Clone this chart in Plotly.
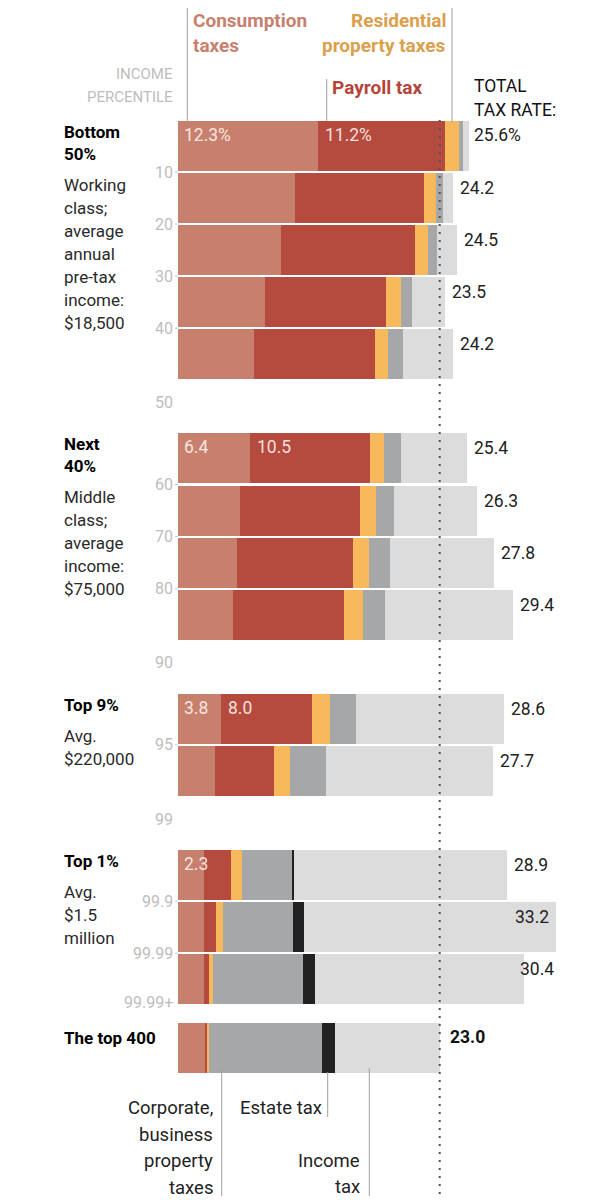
import plotly.graph_objects as go

# ---------------- data ----------------
consumption = [12.3, 10.3, 9.1, 7.7, 6.7, 6.4, 5.5, 5.2, 4.9, 3.8, 3.3, 2.3, 2.3, 2.3, 2.4]
payroll     = [11.2, 11.3, 11.7, 10.6, 10.6, 10.5, 10.5, 10.2, 9.7, 8.0, 5.2, 2.4, 1.1, 0.5, 0.25]
residential = [1.2, 1.1, 1.2, 1.3, 1.2, 1.2, 1.4, 1.4, 1.7, 1.6, 1.4, 1.0, 0.6, 0.35, 0.15]
corporate   = [0.3, 0.6, 0.8, 1.0, 1.3, 1.5, 1.6, 1.8, 1.9, 2.3, 3.1, 4.4, 6.1, 7.9, 9.9]
estate      = [0, 0, 0, 0, 0, 0, 0, 0, 0, 0, 0, 0.1, 1.0, 1.0, 1.1]
income      = [0.6, 0.9, 1.7, 2.9, 4.4, 5.8, 7.3, 9.2, 11.2, 12.9, 14.7, 18.7, 22.1, 18.35, 9.2]
totals      = [25.6, 24.2, 24.5, 23.5, 24.2, 25.4, 26.3, 27.8, 29.4, 28.6, 27.7, 28.9, 33.2, 30.4, 23.0]

group_sizes = [5, 4, 2, 3, 1]
group_titles = [["Bottom", "50%"], ["Next", "40%"], ["Top 9%"], ["Top 1%"], ["The top 400"]]
group_desc = [["Working", "class;", "average", "annual", "pre-tax", "income:", "$18,500"],
              ["Middle", "class;", "average", "income:", "$75,000"],
              ["Avg.", "$220,000"],
              ["Avg.", "$1.5", "million"],
              []]
# tick labels between rows (inside groups) and at group ends
inner_ticks = ["10", "20", "30", "40", "60", "70", "80", "95", "99.9", "99.99"]
end_ticks = ["50", "90", "99", "99.99+"]

# in-bar value labels: row index -> (consumption label, payroll label)
inbar = {0: ("12.3%", "11.2%"), 5: ("6.4", "10.5"), 9: ("3.8", "8.0"), 11: ("2.3", None)}

reference_rate = totals[-1]

# ---------------- styling ----------------
C_CONS = "#c8806e"
C_PAY = "#b54b3f"
C_RES = "#f8b95c"
C_CORP = "#a6a7a8"
C_EST = "#222222"
C_INC = "#dcdcdc"
FONT = "Roboto"

PAGE_OFF = 8               # page body margin
W, H = 615, 1200
X0, PXU = 177.5, 11.4      # pixel of x=0, pixels per percentage point
Y0, PITCH = 146.0, 52.08   # pixel of first row centre, pixels per row slot


def dx(px):
    return (px - X0) / PXU


def dy(py):
    return (py - Y0) / PITCH


# row slots: one empty slot between groups, small gap before the top 400
gaps = [1, 1, 1, 0.31]
slots = []
s = 0.0
group_first = []
for gi, n in enumerate(group_sizes):
    group_first.append(len(slots))
    for k in range(n):
        slots.append(s)
        s += 1
    if gi < len(gaps):
        s += gaps[gi]

fig = go.Figure()
series = [(consumption, C_CONS), (payroll, C_PAY), (residential, C_RES),
          (corporate, C_CORP), (estate, C_EST), (income, C_INC)]
for vals, col in series:
    fig.add_trace(go.Bar(y=slots, x=vals, orientation="h", width=0.96,
                         marker=dict(color=col, line=dict(width=0)),
                         hoverinfo="skip", showlegend=False))

ann = []
shapes = []


def txt(x, y, text, size=17, color="#222", bold=False, xanchor="left",
        xshift=0, yshift=0):
    if bold:
        text = "<b>" + text + "</b>"
    ann.append(dict(x=x, y=y, xref="x", yref="y", text=text, showarrow=False,
                    xanchor=xanchor, yanchor="middle", xshift=xshift, yshift=yshift,
                    font=dict(family=FONT, size=size, color=color)))


def vline(px, py0, py1, color="#a0a0a0", width=1):
    shapes.append(dict(type="line", xref="x", yref="y", x0=dx(px), x1=dx(px),
                       y0=dy(py0), y1=dy(py1), line=dict(color=color, width=width)))


# total labels
n_rows = len(totals)
for i, t in enumerate(totals):
    y = slots[i]
    if i == 0:
        txt(t, y, "%.1f%%" % t, size=17.5, xshift=3, yshift=11)
    elif i == n_rows - 1:
        txt(t, y, "%.1f" % t, size=17.5, bold=True, color="#111", xshift=8, yshift=11)
    elif i == 12:
        txt(t, y, "%.1f" % t, size=17.5, xanchor="right", xshift=-5, yshift=10)
    elif i == 13:
        txt(t, y, "%.1f" % t, size=17.5, xshift=-6, yshift=10)
    else:
        txt(t, y, "%.1f" % t, size=17.5, xshift=5, yshift=10)

# in-bar labels
for i, (a, b) in inbar.items():
    txt(0, slots[i], a, size=17.5, color="rgba(255,240,235,0.92)", xshift=4, yshift=11)
    if b:
        txt(consumption[i], slots[i], b, size=17.5, color="rgba(255,240,235,0.92)", xshift=5, yshift=11)

# tick labels
TICKC = "#bdbdbd"
ti = 0
ei = 0
for gi, n in enumerate(group_sizes[:-1]):
    f = group_first[gi]
    for k in range(n - 1):
        yb = (slots[f + k] + slots[f + k + 1]) / 2
        txt(dx(175), yb, inner_ticks[ti], size=16, color=TICKC, xanchor="right")
        shapes.append(dict(type="line", xref="x", yref="y", x0=dx(175), x1=dx(178),
                           y0=yb, y1=yb, line=dict(color="#c8c8c8", width=1)))
        ti += 1
    last = f + n - 1
    if gi < 3:
        ye = (slots[last] + slots[last + 1]) / 2
        txt(dx(175), ye, end_ticks[ei], size=16, color=TICKC, xanchor="right", yshift=4)
    else:
        ye = slots[last] + 0.48
        txt(dx(175), ye, end_ticks[ei], size=16, color=TICKC, xanchor="right", yshift=2)
    ei += 1

# group labels
for gi in range(len(group_sizes)):
    f = group_first[gi]
    top_px = Y0 + slots[f] * PITCH - 25
    if gi == len(group_sizes) - 1:
        txt(dx(62), slots[f], group_titles[gi][0], size=17, bold=True,
            color="#000", yshift=10)
        continue
    yline = top_px + 11
    for line in group_titles[gi]:
        txt(dx(62), dy(yline), line, size=17, bold=True, color="#000")
        yline += 22
    yline += 9
    for line in group_desc[gi]:
        txt(dx(62), dy(yline), line, size=17, color="#2a2a2a")
        yline += 23

# header labels
txt(dx(191), dy(20), "Consumption", size=19, bold=True, color=C_CONS)
txt(dx(191), dy(45), "taxes", size=19, bold=True, color=C_CONS)
txt(dx(448), dy(20), "Residential", size=19, bold=True, color="#dba04c", xanchor="right")
txt(dx(448), dy(45), "property taxes", size=19, bold=True, color="#dba04c", xanchor="right")
txt(dx(330), dy(87), "Payroll tax", size=19, bold=True, color="#b5453a")
txt(dx(175), dy(74), "INCOME", size=15, color=TICKC, xanchor="right")
txt(dx(175), dy(97), "PERCENTILE", size=15, color=TICKC, xanchor="right")
txt(dx(472), dy(86), "TOTAL", size=17.5, color="#111")
txt(dx(472), dy(110), "TAX RATE:", size=17.5, color="#111")
vline(187.3, 0, 121)
vline(326.7, 79, 121)
vline(452, 0, 123)

# bottom labels
for k, line in enumerate(["Corporate,", "business", "property", "taxes"]):
    txt(dx(215), dy(1108 + 26.5 * k), line, size=18.5, color="#222", xanchor="right")
txt(dx(238), dy(1108), "Estate tax", size=18.5, color="#222")
txt(dx(362), dy(1161), "Income", size=18.5, color="#222", xanchor="right")
txt(dx(362), dy(1187), "tax", size=18.5, color="#222", xanchor="right")
vline(221.7, 1068, 1196)
vline(327.7, 1072, 1117)
vline(369.3, 1068, 1196)

# reference dotted line at the top-400 rate
shapes.append(dict(type="line", xref="x", yref="y", x0=reference_rate, x1=reference_rate,
                   y0=dy(120), y1=dy(1200), line=dict(color="#555", width=2, dash="2px,6px")))

# the figure sits 8px into the page, so it covers reference pixels 8..615 / 8..1200
fig.update_layout(
    width=W - PAGE_OFF, height=H - PAGE_OFF, barmode="stack", bargap=0,
    margin=dict(l=0, r=0, t=0, b=0),
    paper_bgcolor="white", plot_bgcolor="white",
    xaxis=dict(range=[dx(PAGE_OFF), dx(W)], visible=False, fixedrange=True),
    yaxis=dict(range=[dy(H), dy(PAGE_OFF)], visible=False, fixedrange=True),
    annotations=ann, shapes=shapes,
)

fig.write_html("out.html", config={"displayModeBar": False})
